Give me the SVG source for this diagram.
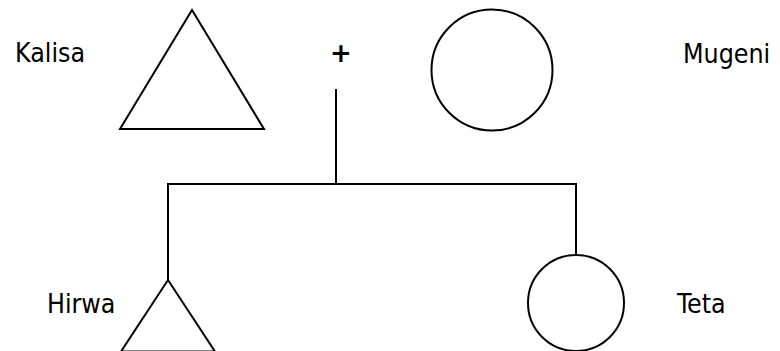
<svg xmlns="http://www.w3.org/2000/svg" width="780" height="351" viewBox="0 0 780 351">
<style>
.s{fill:#fff;stroke:#000;stroke-width:2}
.c{fill:none;stroke:#000;stroke-width:2}
.t{font-family:"DejaVu Sans Condensed","DejaVu Sans",sans-serif;font-stretch:condensed;font-size:26.5px;fill:#000}
.p{font-family:"DejaVu Sans","Liberation Sans",sans-serif;font-size:26px;font-weight:bold;fill:#000}
</style>
<rect width="780" height="351" fill="#fff"/>
<g id="connectors">
<line class="c" x1="336" y1="89" x2="336" y2="185"/>
<polyline class="c" points="168,280 168,184 576,184 576,255"/>
</g>
<g id="kalisa">
<polygon class="s" points="192,10 264,129 120,129"/>
<text class="t" x="15" y="62">Kalisa</text>
</g>
<g id="plus">
<text class="p" x="341" y="62" text-anchor="middle">+</text>
</g>
<g id="mugeni">
<circle class="s" cx="492" cy="70" r="60.5"/>
<text class="t" x="683" y="63">Mugeni</text>
</g>
<g id="hirwa">
<polygon class="s" points="168,280 215,351.5 121,351.5"/>
<text class="t" x="47" y="313">Hirwa</text>
</g>
<g id="teta">
<circle class="s" cx="576" cy="303" r="48"/>
<text class="t" x="677" y="313">Teta</text>
</g>
</svg>
